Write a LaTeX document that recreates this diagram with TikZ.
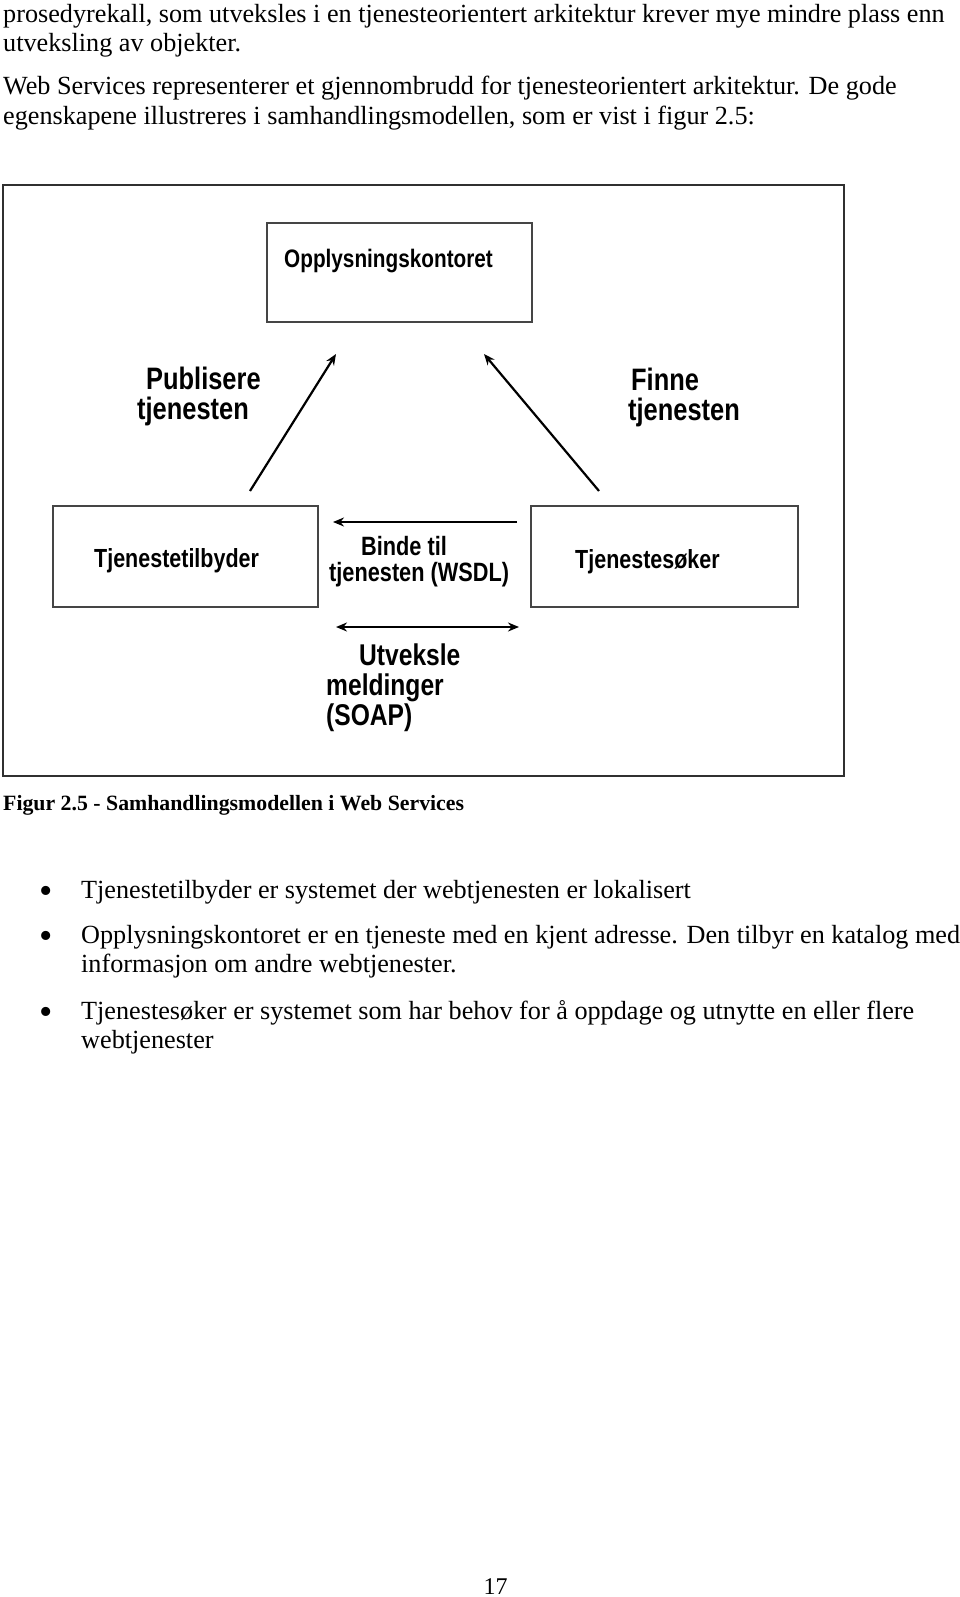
\documentclass[tikz,border=0pt]{standalone}
\usepackage{fontspec}
\setmainfont{Liberation Serif}
\newfontfamily\labfont[FakeStretch=0.82]{Liberation Sans}
\usetikzlibrary{arrows.meta}
\definecolor{boxgray}{HTML}{454545}
\definecolor{framegray}{HTML}{303030}
\begin{document}
\begin{tikzpicture}[x=1pt,y=-1pt,
  body/.style={anchor=mid west, inner sep=0pt, font=\fontsize{26.2}{30}\selectfont},
  capt/.style={anchor=mid west, inner sep=0pt, font=\bfseries\fontsize{21.8}{25}\selectfont},
  bul/.style={anchor=mid, inner sep=0pt, font=\fontsize{38}{40}\selectfont},
  diagbox/.style={draw=boxgray, line width=2.2pt, inner sep=0pt},
  boxtext/.style={anchor=mid west, inner sep=0pt, font=\labfont\bfseries\fontsize{26.2}{30}\selectfont},
  lab/.style={anchor=mid west, inner sep=0pt, font=\labfont\bfseries\fontsize{31}{36}\selectfont},
  midlab/.style={anchor=mid west, inner sep=0pt, font=\labfont\bfseries\fontsize{26.5}{30}\selectfont},
  soaplab/.style={anchor=mid west, inner sep=0pt, font=\labfont\bfseries\fontsize{30}{34}\selectfont},
  arr/.style={draw=black, line width=2.2pt, -{Stealth[length=11pt,width=9pt]}},
  dblarr/.style={draw=black, line width=2.2pt, {Stealth[length=11pt,width=9pt]}-{Stealth[length=11pt,width=9pt]}}
]
\useasboundingbox (0,0) rectangle (960,1597);
\fill[white] (0,0) rectangle (960,1597);

% top paragraphs
\node[body] (p1) at (3,20) {prosedyrekall, som utveksles i en tjenesteorientert arkitektur krever mye mindre plass enn};
\node[body] (p2) at (3,49) {utveksling av objekter.};
\node[body] (p3) at (3,92) {Web Services representerer et gjennombrudd for tjenesteorientert arkitektur. De gode};
\node[body] (p4) at (3,122) {egenskapene illustreres i samhandlingsmodellen, som er vist i figur 2.5:};

% figure frame
\draw[framegray, line width=1.6pt] (3,185) rectangle (844,776);

% boxes
\node[diagbox, minimum width=265pt, minimum height=99pt] (reg) at (399.5,272.5) {};
\node[diagbox, minimum width=265pt, minimum height=101pt] (prov) at (185.5,556.5) {};
\node[diagbox, minimum width=267pt, minimum height=101pt] (req) at (664.5,556.5) {};

\node[boxtext, font=\labfont\bfseries\fontsize{25.3}{30}\selectfont] (regt) at (284,265) {Opplysningskontoret};
\node[boxtext] (provt) at (94,565) {Tjenestetilbyder};
\node[boxtext] (reqt) at (575,566) {Tjenestesøker};

% labels
\node[lab] (pub1) at (146,387) {Publisere};
\node[lab] (pub2) at (137,417) {tjenesten};
\node[lab] (fin1) at (631,388) {Finne};
\node[lab] (fin2) at (628,418) {tjenesten};
\node[midlab] (bin1) at (361,553) {Binde til};
\node[midlab] (bin2) at (329,579) {tjenesten (WSDL)};
\node[soaplab] (soa1) at (359,663) {Utveksle};
\node[soaplab] (soa2) at (326,693) {meldinger};
\node[soaplab] (soa3) at (326,723) {(SOAP)};

% arrow end points
\coordinate (pubS) at (250,491);
\coordinate (pubE) at (336,354);
\coordinate (finS) at (599,491);
\coordinate (finE) at (484,354);
\coordinate (bindS) at (517,522);
\coordinate (bindE) at (333,522);
\coordinate (soapA) at (336,627);
\coordinate (soapB) at (519,627);

\draw[arr] (pubS) -- (pubE);
\draw[arr] (finS) -- (finE);
\draw[arr] (bindS) -- (bindE);
\draw[dblarr] (soapA) -- (soapB);

% caption
\node[capt] (cap) at (3,808) {Figur 2.5 - Samhandlingsmodellen i Web Services};

% bullet list
\node[bul] (b1) at (46,901) {\textbullet};
\node[body] (l1) at (81,896) {Tjenestetilbyder er systemet der webtjenesten er lokalisert};
\node[bul] (b2) at (46,946) {\textbullet};
\node[body] (l2) at (81,941) {Opplysningskontoret er en tjeneste med en kjent adresse. Den tilbyr en katalog med};
\node[body] (l3) at (81,970) {informasjon om andre webtjenester.};
\node[bul] (b3) at (46,1022) {\textbullet};
\node[body] (l4) at (81,1017) {Tjenestesøker er systemet som har behov for å oppdage og utnytte en eller flere};
\node[body] (l5) at (81,1046) {webtjenester};

% page number
\node[anchor=mid, inner sep=0pt, font=\fontsize{24}{28}\selectfont] (pg) at (495.5,1592) {17};
\end{tikzpicture}
\end{document}
